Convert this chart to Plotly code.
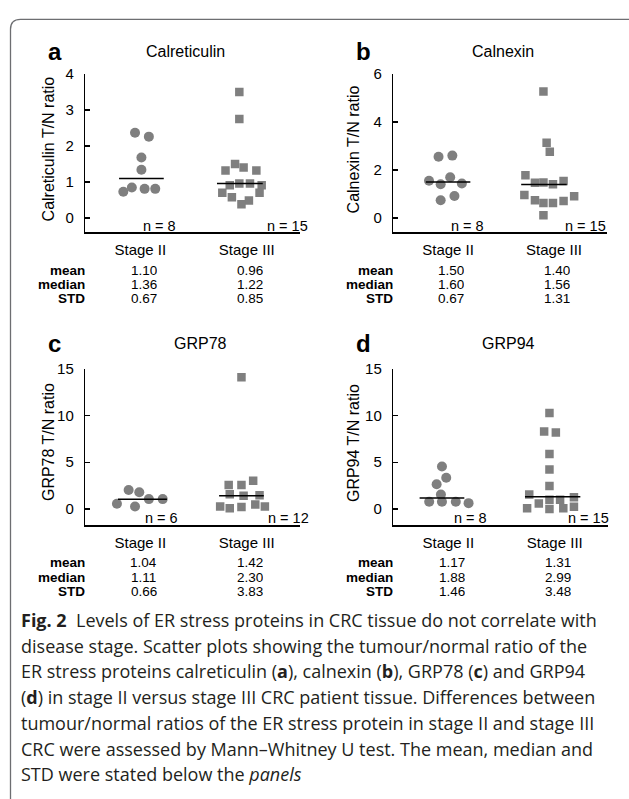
import plotly.graph_objects as go

# ---------------- data ----------------
groups = ["Stage II", "Stage III"]

calr_II = [2.37, 2.26, 1.68, 1.34, 0.73, 0.85, 0.81, 0.81]
calr_III = [3.50, 2.75, 1.50, 1.40, 1.32, 1.32, 0.91, 0.96, 0.96, 0.91, 0.70, 0.58, 0.49, 0.70, 0.38]
calr_jit_II = [-0.05, 0.08, 0.01, 0.01, -0.16, -0.08, 0.04, 0.14]
calr_jit_III = [-0.07, -0.07, -0.11, -0.03, -0.20, 0.09, -0.16, -0.07, 0.03, 0.14, -0.23, -0.14, 0.02, 0.12, -0.05]

caln_II = [2.55, 2.60, 1.55, 1.41, 1.70, 1.44, 0.74, 0.92]
caln_III = [5.27, 3.14, 2.76, 1.78, 1.47, 1.48, 1.41, 1.54, 0.96, 0.74, 0.63, 0.63, 0.71, 0.91, 0.12]
caln_jit_II = [-0.09, 0.04, -0.18, -0.07, 0.02, 0.13, -0.07, 0.06]
caln_jit_III = [-0.10, -0.07, -0.04, -0.27, -0.18, -0.10, -0.01, 0.09, -0.28, -0.18, -0.10, -0.01, 0.09, 0.19, -0.10]

grp78_II = [0.56, 2.04, 1.80, 0.28, 1.06, 1.06]
grp78_III = [14.08, 2.57, 2.57, 3.03, 1.58, 1.41, 1.48, 0.28, 0.07, 0.21, 0.49, 0.28]
grp78_jit_II = [-0.22, -0.11, -0.01, -0.05, 0.08, 0.21]
grp78_jit_III = [-0.05, -0.17, -0.05, 0.06, -0.16, -0.03, 0.12, -0.25, -0.16, -0.05, 0.08, 0.17]

grp94_II = [4.54, 3.35, 2.64, 1.55, 0.77, 0.77, 0.77, 0.63]
grp94_III = [10.25, 8.27, 8.17, 5.88, 4.23, 2.46, 1.55, 1.27, 0.60, 0.99, 0.99, 0.07, 0.00, 0.07, 0.25]
grp94_jit_II = [-0.06, -0.02, -0.11, -0.07, -0.18, -0.06, 0.07, 0.19]
grp94_jit_III = [-0.05, -0.10, 0.01, -0.05, -0.05, -0.05, -0.24, 0.18, -0.15, -0.05, 0.05, -0.26, -0.05, 0.08, 0.18]

means = {"a": [1.10, 0.96], "b": [1.50, 1.40], "c": [1.04, 1.42], "d": [1.17, 1.31]}
mean_text = {"a": ["1.10", "0.96"], "b": ["1.50", "1.40"], "c": ["1.04", "1.42"], "d": ["1.17", "1.31"]}
medians = {"a": ["1.36", "1.22"], "b": ["1.60", "1.56"], "c": ["1.11", "2.30"], "d": ["1.88", "2.99"]}
stds = {"a": ["0.67", "0.85"], "b": ["0.67", "1.31"], "c": ["0.66", "3.83"], "d": ["1.46", "3.48"]}
ns = {"a": [8, 15], "b": [8, 15], "c": [6, 12], "d": [8, 15]}
titles = {"a": "Calreticulin", "b": "Calnexin", "c": "GRP78", "d": "GRP94"}
ytitles = {"a": "Calreticulin T/N ratio", "b": "Calnexin T/N ratio", "c": "GRP78 T/N ratio", "d": "GRP94 T/N ratio"}
yticks = {"a": [0, 1, 2, 3, 4], "b": [0, 2, 4, 6], "c": [0, 5, 10, 15], "d": [0, 5, 10, 15]}
# mean-line extents relative to group centre
mean_ext = {"a": [(-0.20, 0.22), (-0.28, 0.15)], "b": [(-0.21, 0.21), (-0.31, 0.12)],
            "c": [(-0.21, 0.25), (-0.26, 0.16)], "d": [(-0.27, 0.15), (-0.28, 0.24)]}

caption_lines = [
    "<b>Fig. 2</b>\u00a0\u00a0Levels of ER stress proteins in CRC tissue do not correlate with",
    "disease stage. Scatter plots showing the tumour/normal ratio of the",
    "ER stress proteins calreticulin (<b>a</b>), calnexin (<b>b</b>), GRP78 (<b>c</b>) and GRP94",
    "(<b>d</b>) in stage II versus stage III CRC patient tissue. Differences between",
    "tumour/normal ratios of the ER stress protein in stage II and stage III",
    "CRC were assessed by Mann\u2013Whitney U test. The mean, median and",
    "STD were stated below the <i>panels</i>",
]

values = {"a": (calr_II, calr_III), "b": (caln_II, caln_III), "c": (grp78_II, grp78_III), "d": (grp94_II, grp94_III)}
jitters = {"a": (calr_jit_II, calr_jit_III), "b": (caln_jit_II, caln_jit_III),
           "c": (grp78_jit_II, grp78_jit_III), "d": (grp94_jit_II, grp94_jit_III)}

# ---------------- layout geometry (window pixels) ----------------
W, H = 629, 799


def px(x):
    return x / W


def py(y):
    return 1 - y / H


FONT = "Liberation Sans, Arial, sans-serif"
CAPFONT = "Open Sans, Noto Sans, sans-serif"
GREY = "#7f7f7f"

geom = {
    "a": dict(x0=85, x1=300, ytop=65.7, ybot=226, ymin=-0.40, tx=185, lx=55, ly=43, ytx=48, ytc=142,
              nlab=[(1.18, -0.21), (2.38, -0.21)]),
    "b": dict(x0=393, x1=607, ytop=65.7, ybot=226, ymin=-0.60, tx=503, lx=363, ly=43, ytx=353, ytc=142,
              nlab=[(1.18, -0.32), (2.30, -0.32)]),
    "c": dict(x0=85, x1=300, ytop=363.7, ybot=522.3, ymin=-1.75, tx=200, lx=54, ly=338, ytx=48, ytc=438,
              nlab=[(1.20, -0.98), (2.39, -0.98)]),
    "d": dict(x0=393, x1=608, ytop=363.7, ybot=522.3, ymin=-1.75, tx=508, lx=363, ly=338, ytx=353, ytc=439,
              nlab=[(1.21, -0.98), (2.32, -0.98)]),
}

fig = go.Figure()
annotations = []
layout_axes = {}

for i, key in enumerate(["a", "b", "c", "d"], start=1):
    g = geom[key]
    xa = "x" if i == 1 else f"x{i}"
    ya = "y" if i == 1 else f"y{i}"
    vII, vIII = values[key]
    jII, jIII = jitters[key]
    fig.add_trace(go.Scatter(x=[1 + j for j in jII], y=vII, mode="markers", xaxis=xa, yaxis=ya,
                             marker=dict(symbol="circle", size=10, color=GREY), showlegend=False,
                             name=groups[0]))
    fig.add_trace(go.Scatter(x=[2 + j for j in jIII], y=vIII, mode="markers", xaxis=xa, yaxis=ya,
                             marker=dict(symbol="square", size=8.5, color=GREY), showlegend=False,
                             name=groups[1]))
    for gi in range(2):
        lo, hi = mean_ext[key][gi]
        m = means[key][gi]
        fig.add_trace(go.Scatter(x=[gi + 1 + lo, gi + 1 + hi], y=[m, m], mode="lines", xaxis=xa, yaxis=ya,
                                 line=dict(color="black", width=1.5), showlegend=False, hoverinfo="skip"))

    ymax = yticks[key][-1]
    layout_axes["xaxis" if i == 1 else f"xaxis{i}"] = dict(
        domain=[px(g["x0"]), px(g["x1"])], range=[0.48, 2.5], anchor=ya,
        showline=True, linecolor="black", linewidth=1.2, showgrid=False, zeroline=False,
        tickvals=[1, 2], ticktext=groups, ticks="", tickfont=dict(family=FONT, size=15, color="black"),
        ticklabelstandoff=3)
    layout_axes["yaxis" if i == 1 else f"yaxis{i}"] = dict(
        domain=[py(g["ybot"]), py(g["ytop"])], range=[g["ymin"], ymax], anchor=xa,
        showline=True, linecolor="black", linewidth=1.2, showgrid=False, zeroline=False,
        tickvals=yticks[key], ticks="inside", ticklen=5, tickwidth=1.2, tickcolor="black",
        tickfont=dict(family=FONT, size=15, color="black"), ticklabelstandoff=7)

    annotations.append(dict(text=f"<b>{key}</b>", x=px(g["lx"]), y=py(g["ly"]), xref="paper", yref="paper",
                            showarrow=False, font=dict(family=FONT, size=24, color="black"),
                            xanchor="center", yanchor="middle"))
    annotations.append(dict(text=titles[key], x=px(g["tx"]), y=py(g["ly"]), xref="paper", yref="paper",
                            showarrow=False, font=dict(family=FONT, size=16, color="black"),
                            xanchor="center", yanchor="middle"))
    annotations.append(dict(text=ytitles[key], x=px(g["ytx"]), y=py(g["ytc"]),
                            xref="paper", yref="paper", showarrow=False, textangle=-90,
                            font=dict(family=FONT, size=16, color="black"),
                            xanchor="center", yanchor="middle"))
    for gi in range(2):
        nx, ny = g["nlab"][gi]
        annotations.append(dict(text=f"n = {ns[key][gi]}", x=nx, y=ny, xref=xa, yref=ya, showarrow=False,
                                font=dict(family=FONT, size=14.5, color="black"),
                                xanchor="center", yanchor="middle"))
    row_y = [g["ybot"] + 37.5, g["ybot"] + 52, g["ybot"] + 66.5]
    row_lab = ["mean", "median", "STD"]
    row_vals = [mean_text[key], medians[key], stds[key]]
    for r in range(3):
        annotations.append(dict(text=f"<b>{row_lab[r]}</b>", x=px(g["x0"] + 2), y=py(row_y[r]),
                                xref="paper", yref="paper", showarrow=False,
                                font=dict(family=FONT, size=13.5, color="black"),
                                xanchor="right", yanchor="middle", height=14))
        for gi in range(2):
            annotations.append(dict(text=row_vals[r][gi], x=gi + 1.03, y=py(row_y[r]),
                                    xref=xa, yref="paper", showarrow=False,
                                    font=dict(family=FONT, size=13.5, color="black"),
                                    xanchor="center", yanchor="middle", height=14))

for k, line in enumerate(caption_lines):
    centre = 618 + 26 * k
    annotations.append(dict(text=line, x=px(19), y=py(centre), xref="paper", yref="paper",
                            showarrow=False, font=dict(family=CAPFONT, size=18, color="#231f20"),
                            xanchor="left", yanchor="middle", align="left"))

x0b, yt, r = 10.5, 10.5, 10
path = (f"M {px(x0b)},{py(H + 2)} L {px(x0b)},{py(yt + r)} "
        f"Q {px(x0b)},{py(yt)} {px(x0b + r)},{py(yt)} L {px(W + 2)},{py(yt)}")

fig.update_layout(
    width=W, height=H, margin=dict(l=0, r=0, t=0, b=0),
    paper_bgcolor="white", plot_bgcolor="white",
    annotations=annotations,
    shapes=[dict(type="path", path=path, xref="paper", yref="paper",
                 line=dict(color="#6d6e71", width=1.3))],
    **layout_axes,
)

# remove the default page margin so the 629x799 figure fills the window exactly
fig.write_html("out.html", config={"displayModeBar": False, "staticPlot": True},
               post_script="document.body.style.margin='0px';document.body.style.overflow='hidden';")
